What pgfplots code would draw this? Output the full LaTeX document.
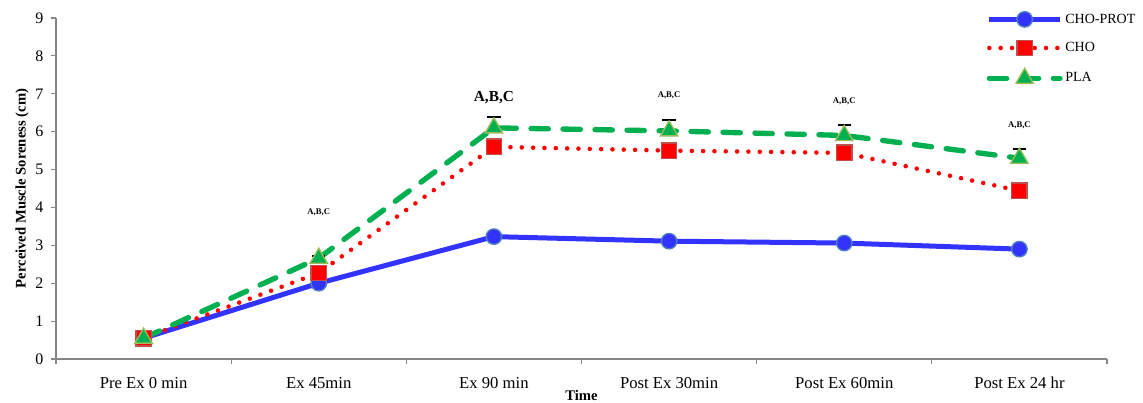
\documentclass[border=0pt]{standalone}
\usepackage{pgfplots}
\pgfplotsset{compat=1.18}
\usepackage{fontspec}
\setmainfont{Liberation Serif}
\definecolor{cpblue}{HTML}{3333FF}
\definecolor{cpedge}{HTML}{4F81BD}
\definecolor{chored}{HTML}{FF0000}
\definecolor{choedge}{HTML}{C0504D}
\definecolor{plagreen}{HTML}{00B050}
\definecolor{plaedge}{HTML}{9BBB59}
\definecolor{axgray}{HTML}{868686}
\begin{document}
\begin{tikzpicture}
\useasboundingbox (-42pt,-33pt) rectangle (815.25pt,269.25pt);
\begin{axis}[
  at={(0pt,0pt)}, anchor=south west,
  scale only axis, width=788.25pt, height=255.75pt,
  xmin=-0.5, xmax=5.5, ymin=0, ymax=9,
  axis x line*=bottom, axis y line*=left,
  axis line style={axgray, line width=1.2pt, -},
  xtick={-0.5,0.5,1.5,2.5,3.5,4.5,5.5},
  x tick label as interval,
  xticklabels={Pre Ex 0 min,Ex 45min,Ex 90 min,Post Ex 30min,Post Ex 60min,Post Ex 24 hr},
  ytick={0,1,...,9},
  tick style={axgray, line width=0.8pt},
  tick align=outside,
  major tick length=4pt,
  ticklabel style={font=\fontsize{12}{14}\selectfont, black},
  xticklabel style={font=\fontsize{12.5}{14}\selectfont, yshift=-6pt},
  /pgf/number format/assume math mode=true,
  yticklabel style={xshift=-2pt},
  xlabel={\textbf{Time}}, xlabel style={font=\fontsize{11}{13}\selectfont, yshift=6pt},
  ylabel={\textbf{Perceived Muscle Soreness (cm)}}, ylabel style={font=\fontsize{11}{13}\selectfont, yshift=-2pt},
  legend style={at={(0.884,1.025)}, anchor=north west, draw=none, fill=none,
     font=\fontsize{10.5}{12}\selectfont, row sep=9pt, inner sep=1pt},
  legend cell align=left,
  legend image code/.code={\draw[mark repeat=2,mark phase=2,#1] plot coordinates {(0pt,0pt) (26.5pt,0pt) (53pt,0pt)};},
  clip=false,
]
\addplot[cpblue, line width=3.75pt, mark=*, mark size=5.8pt,
  mark options={fill=cpblue, draw=cpedge, line width=1pt, solid}]
  coordinates {(0,0.55) (1,2.0) (2,3.23) (3,3.11) (4,3.06) (5,2.9)};
\addlegendentry{CHO-PROT}
\addplot[chored, line width=3.4pt, line cap=round, dash pattern=on 0pt off 8.5pt,
  mark=square*, mark size=5.8pt,
  mark options={fill=chored, draw=choedge, line width=1pt, solid}]
  coordinates {(0,0.55) (1,2.27) (2,5.6) (3,5.5) (4,5.44) (5,4.44)};
\addlegendentry{CHO}
\addplot[plagreen, line width=4pt, line cap=round, dash pattern=on 13pt off 11pt,
  mark=triangle*, mark size=7.5pt,
  mark options={fill=plagreen, draw=plaedge, line width=1pt, solid},
  error bars/.cd, y dir=plus, y explicit,
  error bar style={black, line width=1.3pt, solid},
  error mark options={black, line width=1.3pt, rotate=90, mark size=5pt}]
  coordinates {(0,0.55) +- (0,0.05) (1,2.66) +- (0,0.05) (2,6.1) +- (0,0.28)
    (3,6.02) +- (0,0.28) (4,5.9) +- (0,0.28) (5,5.3) +- (0,0.25)};
\addlegendentry{PLA}
\node[font=\fontsize{6.5}{7}\selectfont\bfseries] at (axis cs:1,3.87) {A,B,C};
\node[font=\fontsize{11.5}{13}\selectfont\bfseries] at (axis cs:2,6.9) {A,B,C};
\node[font=\fontsize{6.5}{7}\selectfont\bfseries] at (axis cs:3,6.97) {A,B,C};
\node[font=\fontsize{6.5}{7}\selectfont\bfseries] at (axis cs:4,6.8) {A,B,C};
\node[font=\fontsize{6.5}{7}\selectfont\bfseries] at (axis cs:5,6.17) {A,B,C};
\end{axis}
\end{tikzpicture}
\end{document}
